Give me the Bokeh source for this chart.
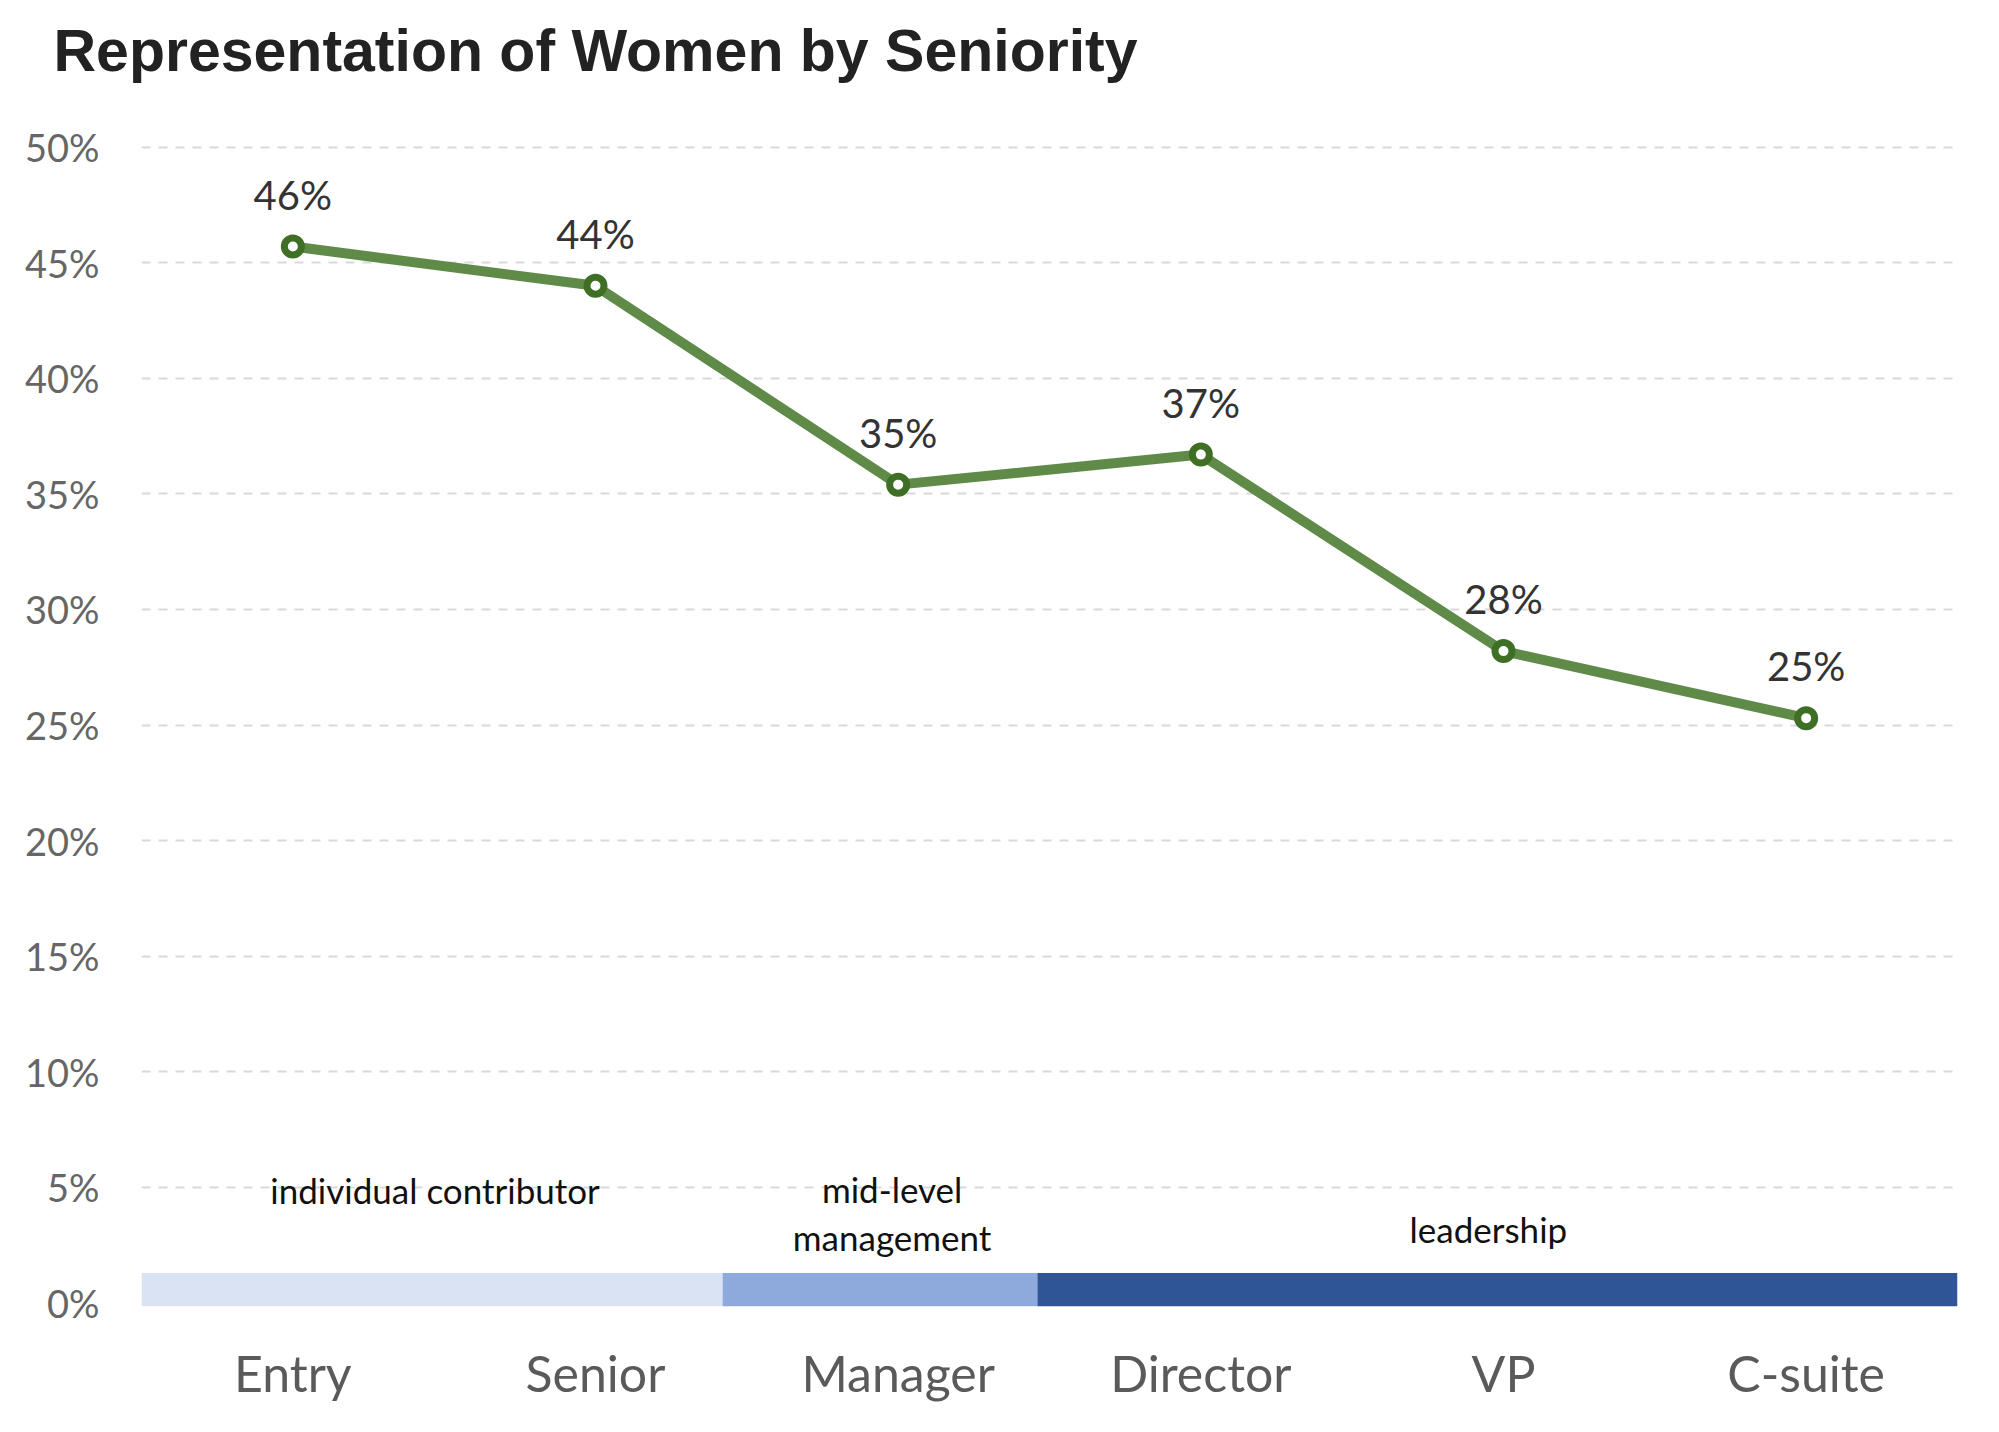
from bokeh.plotting import figure
from bokeh.models import Range1d, FixedTicker, Title, ColumnDataSource
from bokeh.core.properties import value
from bokeh.embed import file_html
from bokeh.resources import INLINE

# ---- data ----
categories = ["Entry", "Senior", "Manager", "Director", "VP", "C-suite"]
women_pct = [45.7, 44.0, 35.4, 36.7, 28.2, 25.3]
pct_labels = ["46%", "44%", "35%", "37%", "28%", "25%"]
y_ticks = [0, 5, 10, 15, 20, 25, 30, 35, 40, 45, 50]
y_tick_labels = ["0%", "5%", "10%", "15%", "20%", "25%", "30%", "35%", "40%", "45%", "50%"]

group_names = ["individual contributor", "mid-level\nmanagement", "leadership"]
group_start = [-0.5, 1.42, 2.46]
group_end = [1.42, 2.46, 5.5]
group_colors = ["#dae3f3", "#8eaadc", "#2f5597"]

# ---- layout constants ----
FONT = "Lato"
x_idx = list(range(len(categories)))

p = figure(width=1983, height=1416, output_backend="svg", toolbar_location=None,
           x_range=Range1d(-0.5, 5.5), y_range=Range1d(-0.15, 50.2),
           min_border_left=141, min_border_right=26, min_border_top=142,
           min_border_bottom=110)
# spacer (closest to the frame) then the real title above it
p.add_layout(Title(text=" ", text_font_size="10px", standoff=46), "above")
p.add_layout(Title(text="Representation of Women by Seniority", align="left",
                   offset=-88, text_font="Liberation Sans", text_font_style="bold",
                   text_font_size="59px", text_color="#222222", standoff=0), "above")
p.outline_line_color = None
p.background_fill_color = "white"
p.border_fill_color = "white"

# grid
p.xgrid.grid_line_color = None
p.ygrid.ticker = FixedTicker(ticks=y_ticks)
p.ygrid.grid_line_color = "#d9d9d9"
p.ygrid.grid_line_width = 2
p.ygrid.grid_line_dash = "9 8"

# axes
p.yaxis.ticker = FixedTicker(ticks=y_ticks)
p.yaxis.major_label_overrides = {t: l for t, l in zip(y_ticks, y_tick_labels)}
p.xaxis.ticker = FixedTicker(ticks=x_idx)
p.xaxis.major_label_overrides = {i: c for i, c in zip(x_idx, categories)}
for ax in (p.xaxis, p.yaxis):
    ax.axis_line_color = None
    ax.major_tick_line_color = None
    ax.minor_tick_line_color = None
    ax.major_tick_out = 0
    ax.major_label_text_font = FONT
p.yaxis.major_label_text_font_size = "38px"
p.yaxis.major_label_text_color = "#666666"
p.yaxis.major_label_standoff = 42
p.xaxis.major_label_text_font_size = "50px"
p.xaxis.major_label_text_color = "#5a5a5a"
p.xaxis.major_label_standoff = 36

# seniority group band
band = ColumnDataSource(dict(left=group_start, right=group_end, color=group_colors))
p.quad(left="left", right="right", bottom=-0.15, top=1.3, fill_color="color",
       line_color=None, source=band)

# group labels
ANN = dict(text_font=value(FONT), text_font_size="35px", text_color="#111111",
           text_align="center", text_baseline="alphabetic", y_offset=-16)
mid_lines = group_names[1].split("\n")
p.text(x=[0.47], y=[4.2], text=[group_names[0]], **ANN)
p.text(x=[1.98], y=[4.24], text=[mid_lines[0]], **ANN)
p.text(x=[1.98], y=[2.16], text=[mid_lines[1]], **ANN)
p.text(x=[3.95], y=[2.5], text=[group_names[2]], **ANN)

# line + markers
src = ColumnDataSource(dict(x=x_idx, y=women_pct, lab=pct_labels))
p.line("x", "y", source=src, line_color="#5f8a48", line_width=10)
p.scatter("x", "y", source=src, size=17, fill_color="white", line_color="#3e6f24",
          line_width=7)
p.text("x", "y", text="lab", source=src, y_offset=-52, text_font=value(FONT),
       text_font_size="40px", text_color="#333333", text_align="center",
       text_baseline="alphabetic")

open("out.html", "w").write(file_html(p, INLINE))
